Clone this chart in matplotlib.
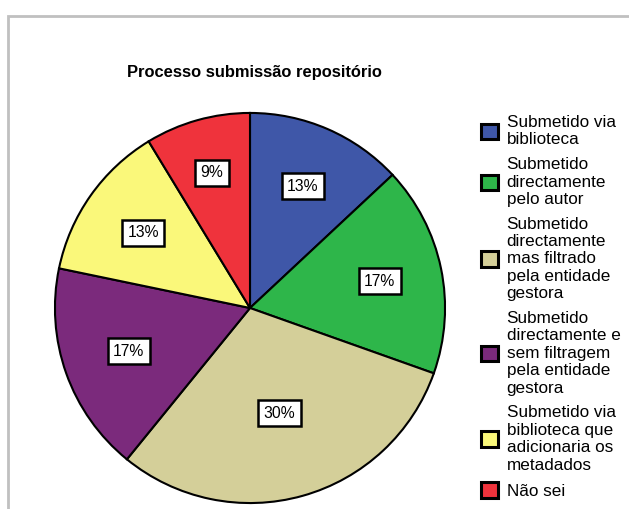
import matplotlib
matplotlib.use('Agg')
import matplotlib.pyplot as plt
from matplotlib.patches import Rectangle
import numpy as np

plt.rcParams['font.family'] = ['Liberation Sans', 'DejaVu Sans']

title = 'Processo submissão repositório'
categories = [
    'Submetido via\nbiblioteca',
    'Submetido\ndirectamente\npelo autor',
    'Submetido\ndirectamente\nmas filtrado\npela entidade\ngestora',
    'Submetido\ndirectamente e\nsem filtragem\npela entidade\ngestora',
    'Submetido via\nbiblioteca que\nadicionaria os\nmetadados',
    'Não sei',
]
counts = [3, 4, 7, 4, 3, 2]
colors = ['#3F57A8', '#2EB64A', '#D4CF99', '#7B2A7C', '#FAF87A', '#EF333C']
label_dist = [0.68, 0.68, 0.56, 0.66, 0.67, 0.72]

fig = plt.figure(figsize=(6.29, 5.09), dpi=100)

# grey frame (cut off at right and bottom)
fig.patches.append(Rectangle((8 / 629, -0.1), 1.2, (509 - 16) / 509 + 0.1,
                             transform=fig.transFigure, fill=False,
                             ec='#C0C0C0', lw=2))

ax = fig.add_axes([53 / 629, 4 / 509, 394 / 629, 394 / 509])
wedges, _ = ax.pie(counts, colors=colors, startangle=90, counterclock=False,
                   radius=1, wedgeprops=dict(edgecolor='black', linewidth=1.5))
ax.set_xlim(-1.01, 1.01)
ax.set_ylim(-1.01, 1.01)
ax.set_aspect('equal')
ax.axis('off')

total = sum(counts)
for w, c, d in zip(wedges, counts, label_dist):
    mid = np.deg2rad((w.theta1 + w.theta2) / 2)
    ax.text(d * np.cos(mid), d * np.sin(mid), '%d%%' % round(100 * c / total),
            ha='center', va='center', fontsize=11.3,
            bbox=dict(boxstyle='square,pad=0.35', fc='white', ec='black', lw=1.8))

fig.text(254 / 629, 1 - 72 / 509, title, ha='center', va='center',
         fontsize=11.9, fontweight='bold')

leg = fig.legend(wedges, categories, loc='upper left',
                 bbox_to_anchor=(481 / 629, 1 - 115 / 509), frameon=False,
                 fontsize=12.3, handlelength=1.0, handleheight=1.0,
                 handletextpad=0.5, labelspacing=0.57, borderpad=0,
                 borderaxespad=0)
for t in leg.get_texts():
    t.set_linespacing(1.2)
for h in leg.legend_handles:
    h.set_linewidth(2.2)

fig.savefig('out.png', dpi=100)
